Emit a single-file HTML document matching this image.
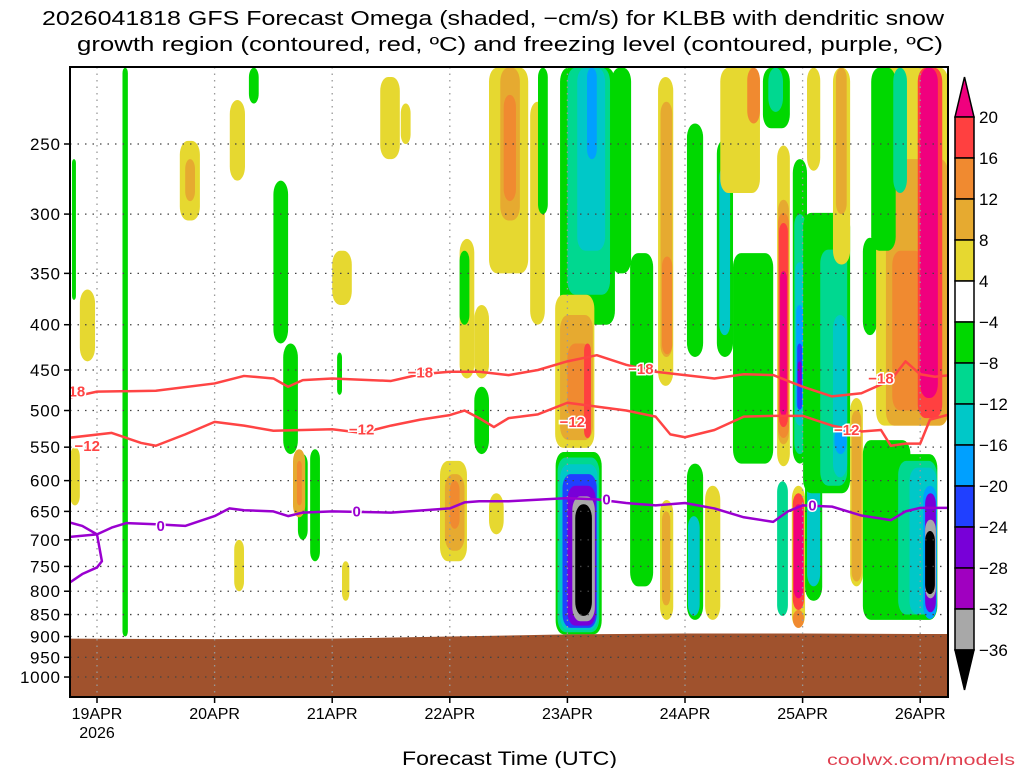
<!DOCTYPE html>
<html><head><meta charset="utf-8"><style>
body{margin:0;background:#fff;width:1024px;height:768px;overflow:hidden;font-family:"Liberation Sans","DejaVu Sans",sans-serif}
svg text{font-family:"Liberation Sans","DejaVu Sans",sans-serif}
</style></head><body>
<svg id="c" width="1024" height="768" viewBox="0 0 1024 768">
<text x="42" y="25" font-size="20" textLength="902" lengthAdjust="spacingAndGlyphs">2026041818 GFS Forecast Omega (shaded, −cm/s) for KLBB with dendritic snow</text>
<text x="77" y="51" font-size="20" textLength="866" lengthAdjust="spacingAndGlyphs">growth region (contoured, red, ºC) and freezing level (contoured, purple, ºC)</text>
<g id="shade"></g>
<g id="terrain"></g>
<g id="grid"></g>
<g id="cont"></g>
<rect x="70" y="67" width="878" height="630" fill="none" stroke="#000" stroke-width="2"/>
<g id="yax"></g>
<g id="xax"></g>
<g id="cbar"></g>
<text x="402" y="765" font-size="19" textLength="215" lengthAdjust="spacingAndGlyphs">Forecast Time (UTC)</text>
<text x="827" y="765" font-size="16" fill="#e04050" textLength="188" lengthAdjust="spacingAndGlyphs">coolwx.com/models</text>
</svg>
<script>
const pLevels=[250,300,350,400,450,500,550,600,650,700,750,800,850,900,950,1000];
const dayLabels=['19APR','20APR','21APR','22APR','23APR','24APR','25APR','26APR'];
const cbarLabels=['20','16','12','8','4','−4','−8','−12','−16','−20','−24','−28','−32','−36'];
const cbarColors=['#ff4040','#f08a30','#e6aa30','#e6d830','#ffffff','#00d800','#00d890','#00c8c8','#00a0ff','#2040ff','#7800d8','#a000c0','#a8a8a8'];
const levelColor={5:'#f0007e',4:'#ff4040',3:'#f08a30',2:'#e6aa30',1:'#e6d830','-1':'#00d800','-2':'#00d890','-3':'#00c8c8','-4':'#00a0ff','-5':'#2040ff','-6':'#7800d8','-7':'#a000c0','-8':'#a8a8a8','-9':'#000000'};
// blobs: [t0 hours, t1 hours, pTop, pBottom, level]
const blobs=[
[-5.1,-4.3,260,375,-1],[-3.5,-0.4,365,440,1],[-5.5,-3.5,550,640,1],[5.2,6.3,205,900,-1],
[16.9,21,248,305,1],[18,20,260,290,2],[27.1,30.2,223,275,1],[31,33,205,225,-1],
[36,39,275,420,-1],[38,41,420,560,-1],[41,43,560,700,-1],[40,42.5,553,660,2],[40.8,41.8,570,640,3],
[43.5,45.5,553,740,-1],[28,30,700,800,1],[50,51.5,740,820,1],[57.8,61.8,210,260,1],[62,64,225,250,1],
[48,52,330,380,1],[49,50,430,480,-1],[74,77,320,460,1],[77,80,380,460,1],[74,76,330,400,-1],[77,80,470,560,-1],
[70,75.5,570,740,1],[71,75,590,720,2],[72,74,600,680,3],[80,83,620,690,1],
[80,88,205,350,1],[82.3,86.3,205,305,2],[83,85.5,220,290,3],[88.4,91.4,224,400,1],[90,92,205,300,-1],
[94.5,105.7,205,400,-1],[96,104.7,205,370,-2],[98,103.7,205,330,-3],[100,102,205,260,-4],[105,109,205,350,-1],
[93.5,101.5,370,551,1],[94.5,101.2,390,540,2],[96,100.8,420,510,3],[99.4,100.8,420,537,4],
[93.6,103,557,895,-1],[94,102.5,565,890,-2],[94.5,102.2,575,885,-3],[95,102,590,880,-5],[96,101.8,608,875,-6],[97,101.6,625,865,-8],[97.6,101,638,853,-9],
[108.8,113.5,332,790,-1],[114.5,117.6,210,469,1],[115,117.4,224,435,2],[115.3,117.4,335,432,3],
[120.4,123.7,237,435,-1],[120.4,123.7,574,862,-1],[120.6,123,658,853,-3],
[126.5,129.8,247,435,-1],[127,129.2,265,411,-3],[127.2,135.3,205,284,1],[132.7,135.3,205,237,3],
[135.9,141.4,205,240,-1],[137,140,205,230,-2],[129.8,138,332,574,-1],
[114.9,117.6,631,862,1],[115.3,117,650,830,2],[124.1,127.2,608,862,1],[138.8,141,601,853,-2],
[138.8,141.4,251,578,1],[139,141.2,289,546,2],[139,141.2,299,537,3],[139.2,141,307,522,4],[139.4,140.8,348,507,5],
[141.8,144.5,608,880,1],[142,144.3,840,880,3],[142,144.3,620,840,4],[142.2,144.1,638,815,5],
[142,144.9,260,574,-1],[142.3,144.6,300,560,-2],[142.5,144.3,340,520,-3],[142.7,144.1,380,499,-4],[142.9,143.9,420,499,-5],[143,143.8,440,470,-6],
[144.5,148,580,820,-1],[144.9,147.6,590,790,-3],
[144.1,153.7,299,620,-1],[147.6,153.1,329,608,-2],[150.2,153.1,390,595,-3],[150.5,153,522,560,-4],
[144.9,147.6,205,268,1],[150.2,153.7,205,342,1],[150.8,153,205,300,2],[153.7,156.3,484,790,1],[154,156,500,780,2],
[156.3,159.2,319,411,-1],
[159,173.7,205,520,1],[161,173.7,260,520,2],[158,163,205,330,-1],[162.5,165.3,205,284,-2],[162.3,168.6,330,500,3],[167.5,172.5,205,510,4],[168,171.6,205,484,5],
[156.3,166,540,862,-1],[163,171.5,560,862,-1],[163.5,171.4,570,850,-2],[165.8,171.4,580,850,-3],[168.6,171.4,608,860,-4],[169,171.2,620,845,-6],[169,171.2,664,815,-8],[169,171,684,806,-9]
];
const surfT=[-6,24,48,72,96,120,144,168,176];
const surfP=[905,906,905,900,895,893,893,894,894];
const c18T=[-6,0,12,24,30,36,39,42,48,60,66,72,78,84,90,96,102,108,114,120,126,132,138,144,150,156,162,165,168,171,176];
const c18P=[484,476,475,466,457,460,470,462,460,463,455,452,452,456,450,440,433,444,452,456,460,455,456,470,482,478,462,440,455,458,455];
const c12T=[-6,3,9,12,18,24,30,36,48,54,60,66,72,75,78,81,84,90,96,102,108,114,117,120,126,132,138,144,150,156,160,162,165,168,170,174];
const c12P=[537,530,544,548,532,515,520,527,525,530,520,512,506,500,510,522,510,505,490,495,500,508,532,536,526,508,507,507,520,528,526,548,545,545,512,505];
const c0T=[-6,0,3,6,12,18,24,27,30,36,39,42,48,60,72,75,78,84,96,102,108,114,120,126,132,138,141,144,150,156,162,165,168,171,176];
const c0P=[695,690,678,670,672,675,658,645,648,650,658,652,650,652,645,635,633,633,628,630,636,640,636,645,660,668,650,640,642,657,665,650,644,644,644];
const c0bT=[-6,-3,0,1,0,-3,-6];
const c0bP=[668,675,690,740,752,765,785];
const labels=[[-5,'−18',20,476],[66,'−18',20,453],[111,'−18',20,449],[160,'−18',20,460],[-2,'−12',20,548],[54,'−12',20,525],[97,'−12',20,515],[153,'−12',20,526],[13,'0','p',675],[53,'0','p',650],[104,'0','p',630],[146,'0','p',640]];
const X0=70,X1=948,Y0=67,Y1=697;
function xs(t){return 97+t/24*117.6;}
function yp(p){return 144+384.5*Math.log(p/250);}
const NS='http://www.w3.org/2000/svg';
function mk(tag,attrs,parent){const e=document.createElementNS(NS,tag);for(const k in attrs)e.setAttribute(k,attrs[k]);parent.appendChild(e);return e;}
const svg=document.getElementById('c');
const defs=mk('defs',{},svg);const cp=mk('clipPath',{id:'clip'},defs);mk('rect',{x:X0,y:Y0,width:X1-X0,height:Y1-Y0},cp);
const sh=document.getElementById('shade');sh.setAttribute('clip-path','url(#clip)');
blobs.forEach((b,i)=>{
 const x=xs(b[0]),w=xs(b[1])-x,y=yp(b[2]),h=yp(b[3])-y;
 const r=mk('rect',{x:x,y:y,width:w,height:h,rx:Math.min(w/2,8),ry:Math.min(w,14),fill:levelColor[b[4]]},sh);
 
 
});
const tg=document.getElementById('terrain');
let d='M'+X0+','+Y1;surfT.forEach((t,i)=>{d+=' L'+Math.max(X0,Math.min(X1,xs(t)))+','+yp(surfP[i]);});d+=' L'+X1+','+Y1+' Z';
const tp=mk('path',{d:d,fill:'#a0522d'},tg);


const g=document.getElementById('grid');const ya=document.getElementById('yax');const xa=document.getElementById('xax');
pLevels.forEach(p=>{const y=yp(p);
 const l=mk('line',{x1:X0,x2:X1,y1:y,y2:y,stroke:'#444','stroke-width':1.3,'stroke-dasharray':'1.5 6'},g);
 
 const tk=mk('line',{x1:X0-6,x2:X0,y1:y,y2:y,stroke:'#000','stroke-width':1.5},ya);
 
 const s=String(p);
 const tx=mk('text',{x:60,y:y+6,'text-anchor':'end','font-size':17,textLength:s.length*10+(s.length>3?0:0),lengthAdjust:'spacing'},ya);tx.textContent=s;
 
});
dayLabels.forEach((lab,i)=>{const x=xs(i*24);
 const l=mk('line',{x1:x,x2:x,y1:Y0,y2:Y1,stroke:'#999','stroke-width':1.3,'stroke-dasharray':'1.5 5'},g);
 
 const tk=mk('line',{x1:x,x2:x,y1:Y1,y2:Y1+6,stroke:'#000','stroke-width':1.5},xa);
 
 const tx=mk('text',{x:x,y:719,'text-anchor':'middle','font-size':16},xa);tx.textContent=lab;
 
});
const yr=mk('text',{x:xs(0),y:738,'text-anchor':'middle','font-size':16},xa);yr.textContent='2026';

const cg=document.getElementById('cont');cg.setAttribute('clip-path','url(#clip)');
function line(T,P,col,name){let s='';T.forEach((t,i)=>{s+=(i?' L':'M')+xs(t)+','+yp(P[i]);});
 const pl=mk('path',{d:s,fill:'none',stroke:col,'stroke-width':2.5,'stroke-linejoin':'round'},cg);
 }
line(c18T,c18P,'#ff4444','contour-minus18');
line(c12T,c12P,'#ff4444','contour-minus12');
line(c0T,c0P,'#9a00d0','freezing-level-contour');
line(c0bT,c0bP,'#9a00d0','freezing-level-contour-branch');
labels.forEach(L=>{const col=L[2]==='p'?'#9a00d0':'#ff4444';
 const x=xs(L[0]),y=yp(L[3]);
 const tx=mk('text',{x:x,y:y+5,'text-anchor':'middle','font-size':15,'font-weight':'bold',fill:col,stroke:'#fff','stroke-width':3,'paint-order':'stroke'},cg);tx.textContent=L[1];
 
});
const cb=document.getElementById('cbar');const bx=955,bw=19,by=117,bh=41;
const tt=mk('path',{d:`M${bx},${by} L${bx+bw},${by} L${bx+bw/2},${by-40} Z`,fill:'#f0007e',stroke:'#000','stroke-width':1.5},cb);

cbarColors.forEach((c,i)=>{const r=mk('rect',{x:bx,y:by+i*bh,width:bw,height:bh,fill:c,stroke:'#000','stroke-width':1.5},cb);
 });
const bt=mk('path',{d:`M${bx},${by+13*bh} L${bx+bw},${by+13*bh} L${bx+bw/2},${by+13*bh+40} Z`,fill:'#000',stroke:'#000','stroke-width':1.5},cb);

cbarLabels.forEach((l,i)=>{const tx=mk('text',{x:979,y:by+i*bh+6,'font-size':17},cb);tx.textContent=l;
 });
</script>
</body></html>
